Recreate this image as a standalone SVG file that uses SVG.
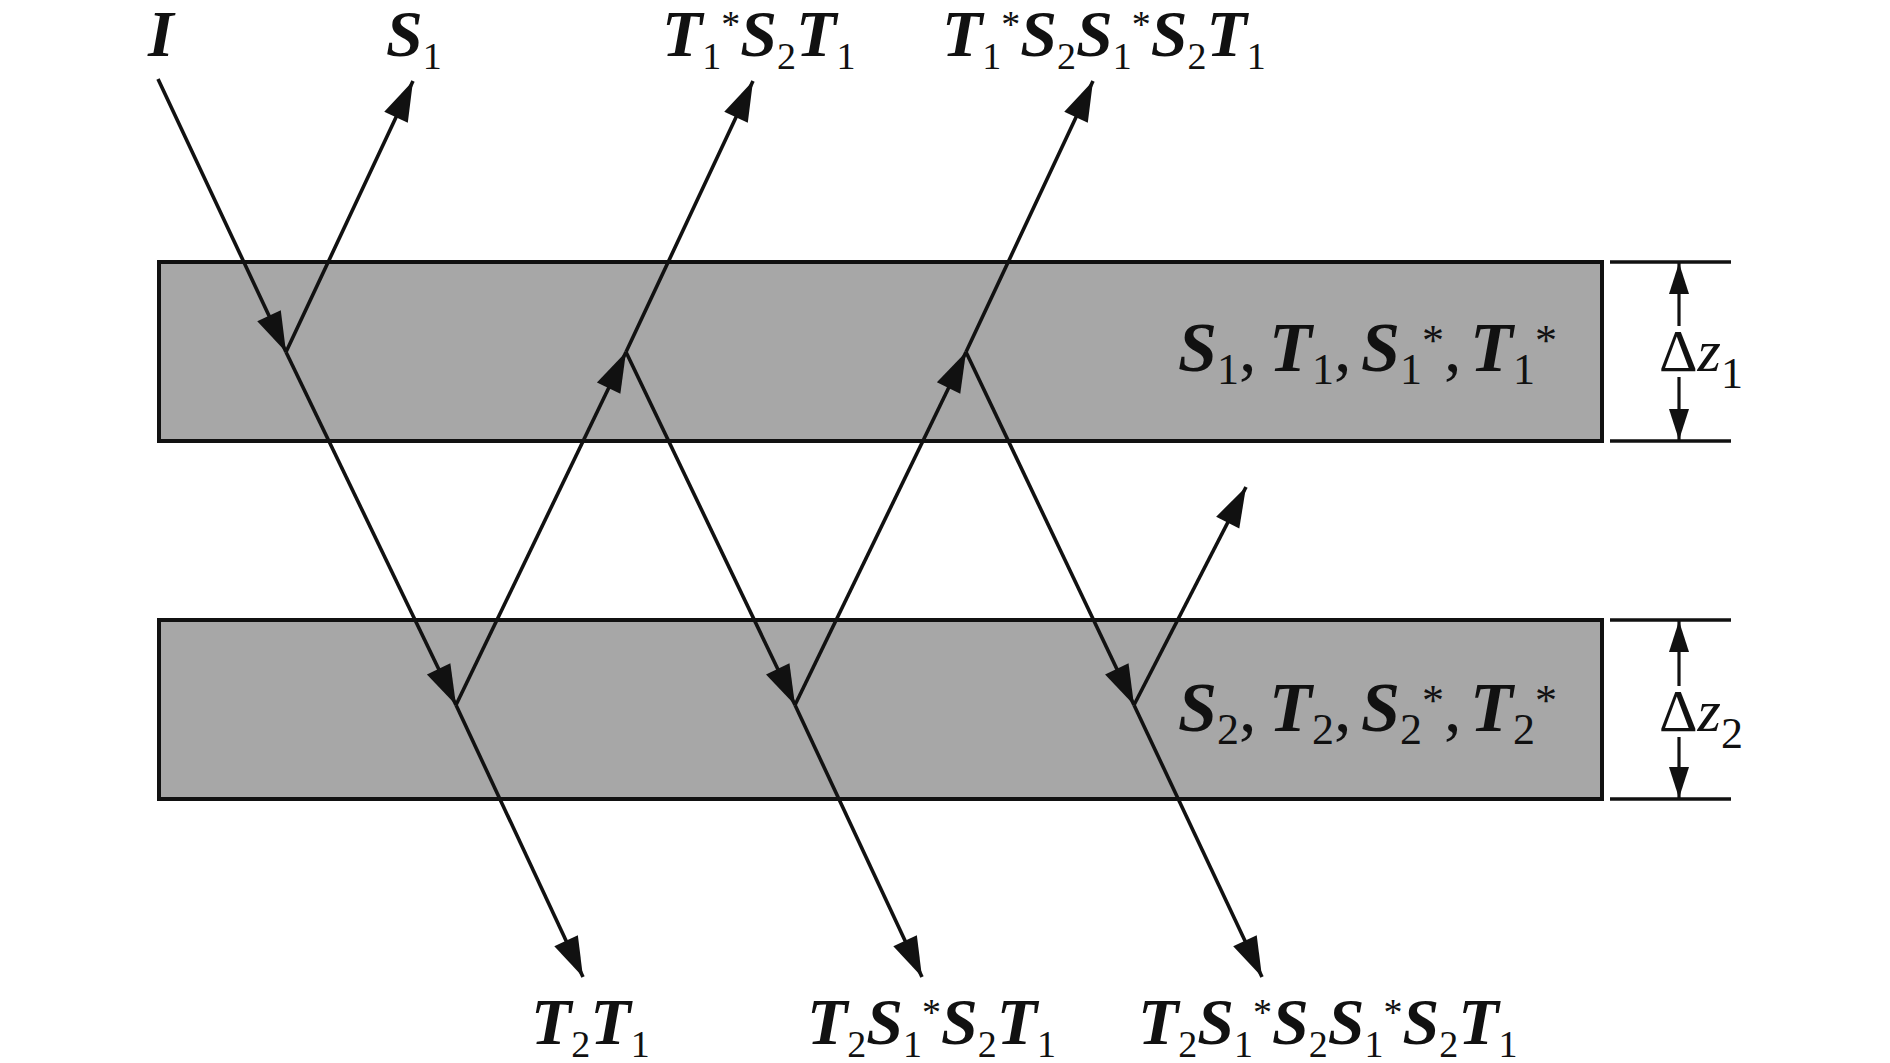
<svg xmlns="http://www.w3.org/2000/svg" width="1890" height="1063" viewBox="0 0 1890 1063">
<style>
.bg{fill:#ffffff}
.layer{fill:#a7a7a7;stroke:#111;stroke-width:4}
.ray{stroke:#111;stroke-width:3.6;fill:none;marker-end:url(#ah)}
.dim{stroke:#111;stroke-width:3.6;fill:none}
.dimA{stroke:#111;stroke-width:3.2;fill:none;marker-end:url(#dh)}
text{font-family:"Liberation Serif","Times New Roman",serif;fill:#111}
.m{font-size:66px;font-weight:bold;font-style:italic}
.s{font-size:38px;font-weight:normal;font-style:normal}
.L{font-size:70px;font-weight:bold;font-style:italic}
.ls{font-size:44px}
.lc{font-size:70px}
.dz{font-size:60px}
.dzi{font-size:60px;font-style:italic}
</style>
<defs>
<marker id="ah" markerUnits="userSpaceOnUse" viewBox="-44 -16 48 32" markerWidth="48" markerHeight="32" refX="0" refY="0" orient="auto">
<path d="M0,0 L-40,-13 L-40,13 Z" fill="#111"/>
</marker>
<marker id="dh" markerUnits="userSpaceOnUse" viewBox="-34 -12 38 24" markerWidth="38" markerHeight="24" refX="0" refY="0" orient="auto">
<path d="M0,0 L-31,-10 L-31,10 Z" fill="#111"/>
</marker>
</defs>
<rect class="bg" x="0" y="0" width="1890" height="1063"/>

<g id="layer1">
<rect class="layer" x="159" y="262" width="1443" height="179"/>
<text><tspan class="L" x="1178" y="371">S</tspan><tspan class="ls" x="1217" y="384">1</tspan><tspan class="lc" x="1239" y="371">,</tspan><tspan class="L" x="1269" y="371">T</tspan><tspan class="ls" x="1312" y="384">1</tspan><tspan class="lc" x="1334" y="371">,</tspan><tspan class="L" x="1361" y="371">S</tspan><tspan class="ls" x="1400" y="384">1</tspan><tspan class="ls" x="1422" y="355">*</tspan><tspan class="lc" x="1444" y="371">,</tspan><tspan class="L" x="1470" y="371">T</tspan><tspan class="ls" x="1513" y="384">1</tspan><tspan class="ls" x="1535" y="355">*</tspan></text>
</g>

<g id="layer2">
<rect class="layer" x="159" y="620" width="1443" height="179"/>
<text><tspan class="L" x="1178" y="731">S</tspan><tspan class="ls" x="1217" y="744">2</tspan><tspan class="lc" x="1239" y="731">,</tspan><tspan class="L" x="1269" y="731">T</tspan><tspan class="ls" x="1312" y="744">2</tspan><tspan class="lc" x="1334" y="731">,</tspan><tspan class="L" x="1361" y="731">S</tspan><tspan class="ls" x="1400" y="744">2</tspan><tspan class="ls" x="1422" y="715">*</tspan><tspan class="lc" x="1444" y="731">,</tspan><tspan class="L" x="1470" y="731">T</tspan><tspan class="ls" x="1513" y="744">2</tspan><tspan class="ls" x="1535" y="715">*</tspan></text>
</g>

<g id="dim1">
<line class="dim" x1="1610" y1="262" x2="1731" y2="262"/>
<line class="dim" x1="1610" y1="441" x2="1731" y2="441"/>
<line class="dimA" x1="1679" y1="326" x2="1679" y2="263"/>
<line class="dimA" x1="1679" y1="377" x2="1679" y2="440"/>
<text x="1659" y="371"><tspan class="dz">Δ</tspan><tspan class="dzi">z</tspan><tspan class="ls" dy="17">1</tspan></text>
</g>

<g id="dim2">
<line class="dim" x1="1610" y1="620" x2="1731" y2="620"/>
<line class="dim" x1="1610" y1="799" x2="1731" y2="799"/>
<line class="dimA" x1="1679" y1="686" x2="1679" y2="621"/>
<line class="dimA" x1="1679" y1="737" x2="1679" y2="798"/>
<text x="1659" y="731"><tspan class="dz">Δ</tspan><tspan class="dzi">z</tspan><tspan class="ls" dy="17">2</tspan></text>
</g>

<g id="connectors">
<line class="ray" x1="158" y1="79" x2="286" y2="352"/>
<line class="ray" x1="286" y1="352" x2="413" y2="81"/>
<line class="ray" x1="286" y1="352" x2="456" y2="705"/>
<line class="ray" x1="456" y1="705" x2="583" y2="977"/>
<line class="ray" x1="456" y1="705" x2="626" y2="352"/>
<line class="ray" x1="626" y1="352" x2="753" y2="81"/>
<line class="ray" x1="626" y1="352" x2="795" y2="705"/>
<line class="ray" x1="795" y1="705" x2="922" y2="977"/>
<line class="ray" x1="795" y1="705" x2="966" y2="352"/>
<line class="ray" x1="966" y1="352" x2="1093" y2="81"/>
<line class="ray" x1="966" y1="352" x2="1134" y2="705"/>
<line class="ray" x1="1134" y1="705" x2="1262" y2="977"/>
<line class="ray" x1="1134" y1="705" x2="1246" y2="487"/>
</g>

<g id="label-I"><text class="m" x="148" y="56">I</text></g>
<g id="label-S1"><text x="386" y="56"><tspan class="m">S</tspan><tspan class="s" dy="13">1</tspan></text></g>
<g id="label-T1S2T1"><text x="662" y="56"><tspan class="m">T</tspan><tspan class="s" dy="13">1</tspan><tspan class="s" dy="-32">*</tspan><tspan class="m" dy="19">S</tspan><tspan class="s" dy="13">2</tspan><tspan class="m" dy="-13">T</tspan><tspan class="s" dy="13">1</tspan></text></g>
<g id="label-T1S2S1S2T1"><text x="942" y="56"><tspan class="m">T</tspan><tspan class="s" dy="13">1</tspan><tspan class="s" dy="-32">*</tspan><tspan class="m" dy="19">S</tspan><tspan class="s" dy="13">2</tspan><tspan class="m" dy="-13">S</tspan><tspan class="s" dy="13">1</tspan><tspan class="s" dy="-32">*</tspan><tspan class="m" dy="19">S</tspan><tspan class="s" dy="13">2</tspan><tspan class="m" dy="-13">T</tspan><tspan class="s" dy="13">1</tspan></text></g>

<g id="label-T2T1"><text x="531" y="1044"><tspan class="m">T</tspan><tspan class="s" dy="13">2</tspan><tspan class="m" dy="-13">T</tspan><tspan class="s" dy="13">1</tspan></text></g>
<g id="label-T2S1S2T1"><text x="807" y="1044"><tspan class="m">T</tspan><tspan class="s" dy="13">2</tspan><tspan class="m" dy="-13">S</tspan><tspan class="s" dy="13">1</tspan><tspan class="s" dy="-32">*</tspan><tspan class="m" dy="19">S</tspan><tspan class="s" dy="13">2</tspan><tspan class="m" dy="-13">T</tspan><tspan class="s" dy="13">1</tspan></text></g>
<g id="label-T2S1S2S1S2T1"><text x="1138" y="1044"><tspan class="m">T</tspan><tspan class="s" dy="13">2</tspan><tspan class="m" dy="-13">S</tspan><tspan class="s" dy="13">1</tspan><tspan class="s" dy="-32">*</tspan><tspan class="m" dy="19">S</tspan><tspan class="s" dy="13">2</tspan><tspan class="m" dy="-13">S</tspan><tspan class="s" dy="13">1</tspan><tspan class="s" dy="-32">*</tspan><tspan class="m" dy="19">S</tspan><tspan class="s" dy="13">2</tspan><tspan class="m" dy="-13">T</tspan><tspan class="s" dy="13">1</tspan></text></g>
</svg>
